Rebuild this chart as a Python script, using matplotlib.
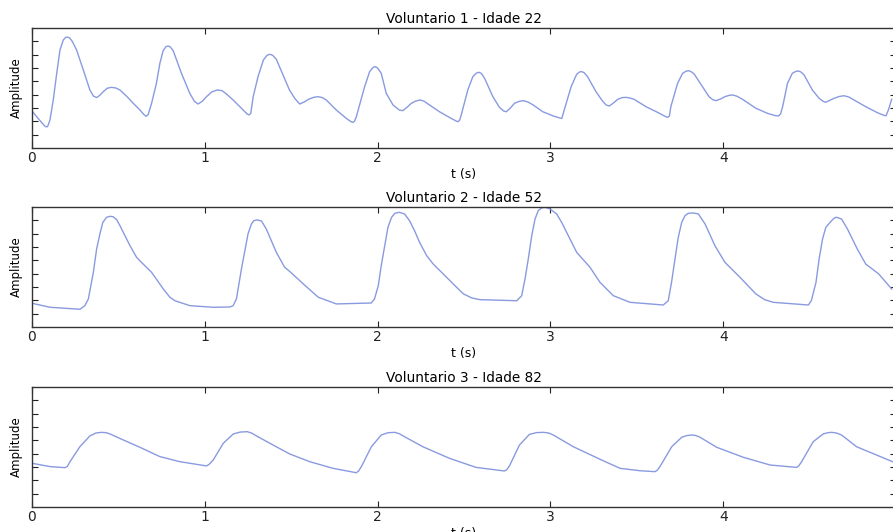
import matplotlib
matplotlib.use("Agg")
import matplotlib.pyplot as plt

# Waveform points (time in s, amplitude in tick units 0..9)
t_v1 = [0.0, 0.03, 0.06, 0.078, 0.09, 0.104, 0.123, 0.143, 0.162, 0.181, 0.195, 0.206, 0.218, 0.233,
        0.258, 0.297, 0.335, 0.355, 0.374, 0.392, 0.412, 0.435, 0.46, 0.485, 0.509, 0.55, 0.586,
        0.625, 0.648, 0.66, 0.672, 0.692, 0.72, 0.74, 0.759, 0.775, 0.788, 0.8, 0.817, 0.865, 0.913,
        0.94, 0.961, 0.985, 1.01, 1.04, 1.071, 1.1, 1.125, 1.164, 1.222, 1.245, 1.256, 1.266, 1.28,
        1.308, 1.339, 1.36, 1.376, 1.393, 1.414, 1.453, 1.49, 1.52, 1.549, 1.575, 1.6, 1.63, 1.655,
        1.68, 1.703, 1.761, 1.819, 1.845, 1.856, 1.866, 1.877, 1.925, 1.954, 1.972, 1.986, 2.0,
        2.021, 2.05, 2.089, 2.125, 2.146, 2.17, 2.195, 2.22, 2.247, 2.27, 2.3, 2.358, 2.426, 2.455,
        2.466, 2.475, 2.484, 2.522, 2.551, 2.572, 2.586, 2.6, 2.619, 2.667, 2.705, 2.73, 2.744, 2.765,
        2.792, 2.82, 2.844, 2.87, 2.9, 2.956, 3.017, 3.055, 3.066, 3.08, 3.12, 3.152, 3.168, 3.181,
        3.195, 3.215, 3.264, 3.3, 3.322, 3.341, 3.362, 3.39, 3.415, 3.437, 3.46, 3.485, 3.553, 3.624,
        3.66, 3.678, 3.688, 3.697, 3.736, 3.765, 3.785, 3.8, 3.815, 3.832, 3.88, 3.918, 3.94, 3.958,
        3.985, 4.01, 4.035, 4.054, 4.08, 4.112, 4.189, 4.256, 4.3, 4.32, 4.332, 4.344, 4.372, 4.4,
        4.42, 4.434, 4.45, 4.468, 4.516, 4.555, 4.578, 4.593, 4.618, 4.642, 4.67, 4.699, 4.728, 4.757,
        4.825, 4.892, 4.93, 4.942, 4.956, 4.975]
y_v1 = [2.78, 2.3, 1.85, 1.6, 1.6, 2.1, 3.6, 5.6, 7.35, 8.1, 8.3, 8.32, 8.25, 8.0,
        7.35, 5.85, 4.35, 3.9, 3.78, 3.95, 4.22, 4.48, 4.55, 4.5, 4.35, 3.85, 3.35,
        2.85, 2.5, 2.38, 2.5, 3.35, 4.85, 6.35, 7.3, 7.6, 7.65, 7.58, 7.3, 5.6, 4.1,
        3.5, 3.3, 3.5, 3.85, 4.2, 4.35, 4.3, 4.05, 3.6, 2.85, 2.55, 2.48, 2.6, 3.85,
        5.35, 6.6, 6.95, 7.03, 6.95, 6.65, 5.48, 4.35, 3.73, 3.3, 3.45, 3.65, 3.8, 3.85,
        3.78, 3.6, 2.85, 2.22, 1.98, 1.92, 2.0, 2.35, 4.6, 5.73, 6.02, 6.1, 6.0,
        5.6, 4.1, 3.23, 2.85, 2.8, 3.05, 3.35, 3.52, 3.6, 3.5, 3.23, 2.72, 2.22, 2.02,
        1.97, 2.1, 2.48, 4.35, 5.35, 5.62, 5.68, 5.6, 5.23, 3.85, 3.05, 2.77, 2.72, 2.95,
        3.35, 3.5, 3.55, 3.45, 3.23, 2.72, 2.4, 2.25, 2.22, 2.85, 4.6, 5.53, 5.7, 5.73,
        5.65, 5.35, 4.22, 3.55, 3.23, 3.15, 3.35, 3.65, 3.78, 3.8, 3.75, 3.65, 3.1, 2.65,
        2.4, 2.3, 2.38, 3.1, 4.85, 5.6, 5.76, 5.8, 5.72, 5.55, 4.6, 3.85, 3.62, 3.55,
        3.68, 3.85, 3.95, 3.98, 3.88, 3.65, 2.98, 2.6, 2.43, 2.4, 2.55, 3.1, 4.85, 5.6,
        5.74, 5.78, 5.7, 5.48, 4.35, 3.73, 3.5, 3.43, 3.58, 3.73, 3.86, 3.92, 3.82, 3.6,
        3.1, 2.65, 2.45, 2.42, 2.85, 3.65]

t_v2 = [0.0, 0.104, 0.277, 0.306, 0.326, 0.355, 0.374, 0.393, 0.41, 0.432, 0.451, 0.47, 0.49, 0.509,
        0.567, 0.605, 0.624, 0.692, 0.76, 0.798, 0.827, 0.914, 1.049, 1.145, 1.164, 1.183, 1.212,
        1.25, 1.27, 1.283, 1.303, 1.328, 1.356, 1.385, 1.414, 1.462, 1.493, 1.57, 1.657, 1.761, 1.963,
        1.982, 2.004, 2.021, 2.06, 2.081, 2.1, 2.127, 2.156, 2.185, 2.214, 2.243, 2.284, 2.322, 2.399,
        2.457, 2.497, 2.545, 2.593, 2.805, 2.834, 2.853, 2.872, 2.892, 2.911, 2.93, 2.949, 2.969,
        2.998, 3.036, 3.065, 3.094, 3.152, 3.229, 3.287, 3.364, 3.461, 3.653, 3.682, 3.701, 3.721,
        3.74, 3.76, 3.779, 3.798, 3.827, 3.856, 3.895, 3.952, 4.01, 4.097, 4.189, 4.24, 4.29, 4.493,
        4.51, 4.537, 4.555, 4.575, 4.594, 4.627, 4.643, 4.655, 4.685, 4.719, 4.776, 4.825, 4.9, 4.975]
y_v2 = [1.78, 1.48, 1.33, 1.6, 2.1, 4.1, 5.85, 6.98, 7.85, 8.23, 8.3, 8.27, 8.05, 7.6,
        6.1, 5.23, 4.97, 4.1, 2.85, 2.23, 1.97, 1.6, 1.48, 1.5, 1.6, 2.1, 4.35,
        6.98, 7.73, 7.97, 8.03, 7.95, 7.35, 6.47, 5.6, 4.48, 4.15, 3.23, 2.23, 1.73, 1.8,
        2.1, 3.1, 4.6, 7.48, 8.23, 8.53, 8.6, 8.48, 7.97, 7.22, 6.35, 5.35, 4.72, 3.73,
        2.98, 2.48, 2.18, 2.05, 1.97, 2.35, 3.6, 5.1, 6.85, 8.1, 8.73, 8.93, 8.98,
        8.85, 8.48, 7.85, 7.1, 5.6, 4.48, 3.35, 2.35, 1.85, 1.65, 1.97, 3.35, 5.1,
        6.73, 7.85, 8.35, 8.53, 8.55, 8.48, 7.73, 6.1, 4.85, 3.73, 2.48, 2.05, 1.85, 1.65,
        1.97, 3.35, 5.1, 6.6, 7.48, 7.97, 8.18, 8.23, 8.1, 7.35, 5.85, 4.72, 3.98, 2.85]

t_v3 = [0.0, 0.104, 0.191, 0.205, 0.22, 0.277, 0.335, 0.37, 0.403, 0.43, 0.451, 0.528, 0.624, 0.74,
        0.855, 1.01, 1.025, 1.049, 1.107, 1.165, 1.205, 1.245, 1.27, 1.299, 1.395, 1.491, 1.607,
        1.742, 1.877, 1.89, 1.906, 1.964, 2.021, 2.06, 2.098, 2.125, 2.156, 2.262, 2.416, 2.57, 2.734,
        2.748, 2.763, 2.821, 2.879, 2.92, 2.959, 2.99, 3.017, 3.133, 3.287, 3.403, 3.519, 3.605, 3.618,
        3.634, 3.702, 3.76, 3.79, 3.818, 3.842, 3.866, 3.962, 4.116, 4.271, 4.425, 4.438, 4.454, 4.521,
        4.579, 4.605, 4.627, 4.655, 4.685, 4.772, 4.98]
y_v3 = [3.28, 3.03, 2.95, 3.05, 3.4, 4.52, 5.33, 5.55, 5.6, 5.57, 5.48, 5.03, 4.48, 3.78,
        3.4, 3.08, 3.2, 3.53, 4.78, 5.48, 5.62, 5.65, 5.55, 5.33, 4.65, 3.98, 3.4,
        2.9, 2.57, 2.7, 3.03, 4.52, 5.4, 5.57, 5.6, 5.5, 5.27, 4.52, 3.65, 2.97, 2.7,
        2.8, 3.08, 4.65, 5.45, 5.58, 5.6, 5.55, 5.4, 4.52, 3.58, 2.9, 2.72, 2.65, 2.75,
        3.03, 4.52, 5.23, 5.36, 5.4, 5.36, 5.23, 4.48, 3.73, 3.15, 2.97, 3.1, 3.4, 4.9,
        5.48, 5.57, 5.6, 5.55, 5.4, 4.52, 3.4]

series = [
    ("Voluntario 1 - Idade 22", t_v1, y_v1),
    ("Voluntario 2 - Idade 52", t_v2, y_v2),
    ("Voluntario 3 - Idade 82", t_v3, y_v3),
]

W, H = 893, 532
fig = plt.figure(figsize=(W / 100, H / 100), dpi=100)

tops = [28, 207, 387]
line_color = "#899ae0"

for (title, t, y), top in zip(series, tops):
    ax = fig.add_axes([32 / W, 1 - (top + 120) / H, 864 / W, 120 / H])
    ax.plot(t, y, color=line_color, lw=1.0, solid_joinstyle="round")
    ax.set_xlim(0, 5)
    ax.set_ylim(0, 9)
    ax.set_xticks([0, 1, 2, 3, 4, 5])
    ax.set_yticks(range(1, 9))
    ax.set_yticklabels([])
    ax.tick_params(direction="in", length=4, width=0.8, top=True, right=True,
                   labelsize=10, pad=2.5, colors="#222222")
    for sp in ax.spines.values():
        sp.set_color("#333333")
        sp.set_linewidth(1.0)
    ax.set_title(title, fontsize=9.8, pad=3.6)
    ax.set_xlabel("t (s)", fontsize=9, labelpad=2)
    ax.set_ylabel("Amplitude", fontsize=8.5)
    ax.yaxis.set_label_coords(-0.010, 0.5)

fig.savefig("out.png", dpi=100)
